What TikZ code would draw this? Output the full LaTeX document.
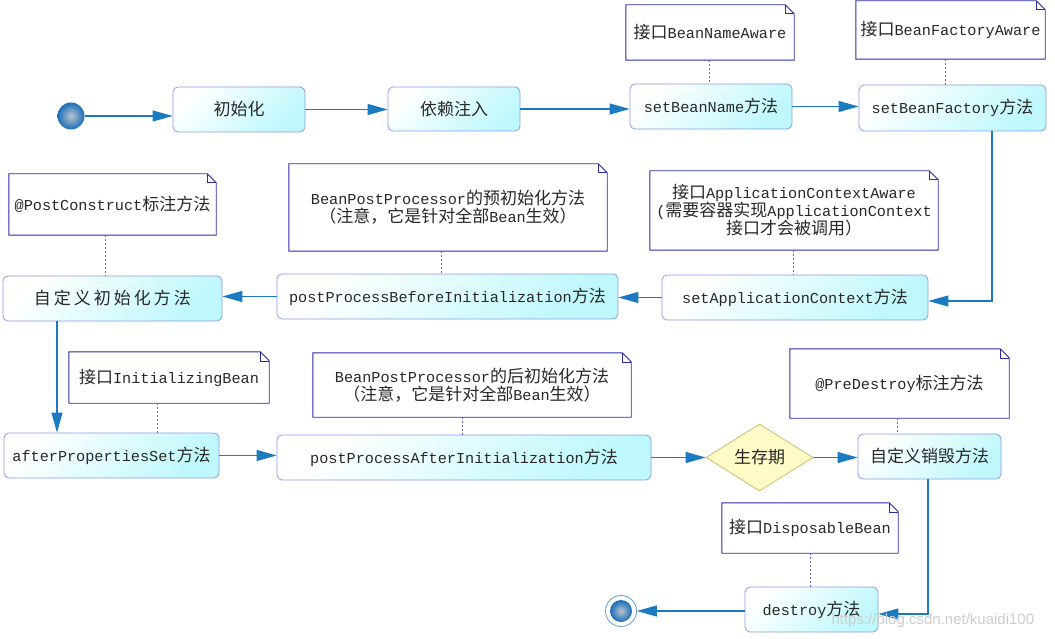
\documentclass[tikz,border=0pt]{standalone}
\usepackage{fontspec}
\setmainfont{Liberation Mono}
\newfontfamily\cjkfont{Noto Sans CJK SC}
\newfontfamily\wmfont{Liberation Sans}
\usetikzlibrary{arrows.meta,shapes.geometric,calc}
\newcommand\zh[1]{{\cjkfont\fontsize{17}{18}\selectfont #1}}
\definecolor{arrowblue}{RGB}{28,122,192}
\definecolor{boxborder}{RGB}{140,155,232}
\definecolor{boxfill}{RGB}{190,248,252}
\definecolor{noteborder}{RGB}{43,43,168}
\definecolor{dotcolor}{RGB}{100,100,215}
\definecolor{textcol}{RGB}{40,40,40}
\definecolor{dfill}{RGB}{255,252,200}
\definecolor{dborder}{RGB}{205,190,110}
\definecolor{ballin}{RGB}{185,195,205}
\definecolor{ballout}{RGB}{25,110,185}
\definecolor{ringcol}{RGB}{90,150,200}
\definecolor{wmcol}{RGB}{205,205,205}
\newcommand\notefold[1]{%
  \draw[noteline] (#1.south west) -- (#1.north west) -- ([xshift=-9pt]#1.north east) -- ([yshift=-9pt]#1.north east) -- (#1.south east) -- cycle;
  \draw[noteline, line width=0.6pt] ([xshift=-9pt]#1.north east) |- ([yshift=-9pt]#1.north east);}
\newcommand\notelink[3]{%
  \coordinate (tmp) at ($(#1.south)+(#3,0)$);
  \draw[dotl] (tmp) -- (tmp |- #2.north);}
\begin{document}
\begin{tikzpicture}[x=1pt,y=-1pt,
  every node/.style={font=\fontsize{15.2}{18}\selectfont, text=textcol},
  box/.style={rectangle, rounded corners=5pt, draw=boxborder, line width=0.8pt,
    top color=white, bottom color=boxfill, shading angle=45,
    minimum height=45pt, inner sep=0pt},
  notebox/.style={rectangle, fill=white, align=center, inner sep=0pt},
  noteline/.style={draw=noteborder, line width=0.9pt, line join=miter},
  dotl/.style={draw=dotcolor, line width=0.8pt, dash pattern=on 2pt off 2pt},
  arr/.style={draw=arrowblue, line width=1.1pt, -{Triangle[length=20pt,width=11pt]}}
]
\useasboundingbox (0,0) rectangle (1055,639);

% notes
\node[notebox, minimum width=168pt, minimum height=55pt] (nbn) at (710,32.5) {\zh{接口}BeanNameAware};
\notefold{nbn}
\node[notebox, minimum width=189pt, minimum height=58pt] (nbf) at (950.5,30) {\zh{接口}BeanFactoryAware};
\notefold{nbf}
\node[notebox, minimum width=288pt, minimum height=79pt] (nac) at (794,210.5) {\zh{接口}ApplicationContextAware\\(\zh{需要容器实现}ApplicationContext\\\zh{接口才会被调用）}};
\notefold{nac}
\node[notebox, minimum width=318pt, minimum height=87pt] (npre) at (448,207.5) {BeanPostProcessor\zh{的预初始化方法}\\\zh{（注意，它是针对全部}Bean\zh{生效）}};
\notefold{npre}
\node[notebox, minimum width=207pt, minimum height=61pt] (npc) at (112.5,204.5) {@PostConstruct\zh{标注方法}};
\notefold{npc}
\node[notebox, minimum width=200pt, minimum height=51pt] (nib) at (169,377.5) {\zh{接口}InitializingBean};
\notefold{nib}
\node[notebox, minimum width=318pt, minimum height=64pt] (npost) at (472,385) {BeanPostProcessor\zh{的后初始化方法}\\\zh{（注意，它是针对全部}Bean\zh{生效）}};
\notefold{npost}
\node[notebox, minimum width=219pt, minimum height=69pt] (npd) at (899.5,383.5) {@PreDestroy\zh{标注方法}};
\notefold{npd}
\node[notebox, minimum width=176pt, minimum height=50pt] (ndb) at (810,528) {\zh{接口}DisposableBean};
\notefold{ndb}

% start / end
\node[circle, minimum size=27pt, inner sep=0pt, inner color=ballin, outer color=ballout] (start) at (71,116) {};
\node[circle, draw=ringcol, fill=white, line width=0.7pt, minimum size=31pt, inner sep=0pt] (endring) at (621,611) {};
\node[circle, minimum size=22pt, inner sep=0pt, inner color=ballin, outer color=ballout] (endball) at (621,611) {};

% boxes
\node[box, minimum width=132pt] (init) at (239,109.5) {\zh{初始化}};
\node[box, minimum width=132pt, minimum height=44pt] (dep) at (454,109) {\zh{依赖注入}};
\node[box, minimum width=162pt] (sbn) at (711,106.5) {setBeanName\zh{方法}};
\node[box, minimum width=187pt, minimum height=46pt] (sbf) at (952.5,108) {setBeanFactory\zh{方法}};
\node[box, minimum width=266pt] (sac) at (795,297.5) {setApplicationContext\zh{方法}};
\node[box, minimum width=341pt] (ppb) at (447.5,296.5) {postProcessBeforeInitialization\zh{方法}};
\node[box, minimum width=219pt] (cinit) at (112.5,298.5) {\zh{自\hspace{3pt}定\hspace{3pt}义\hspace{3pt}初\hspace{3pt}始\hspace{3pt}化\hspace{3pt}方\hspace{3pt}法}};
\node[box, minimum width=215pt] (aps) at (111.5,455.5) {afterPropertiesSet\zh{方法}};
\node[box, minimum width=374pt] (ppa) at (464,457.5) {postProcessAfterInitialization\zh{方法}};
\node[diamond, aspect=1.6, draw=dborder, fill=dfill, line width=0.8pt, inner sep=0pt,
      minimum width=107pt, minimum height=67pt] (life) at (759.5,457.5) {\zh{生存期}};
\node[box, minimum width=143pt] (cdes) at (929.5,456.5) {\zh{自定义销毁方法}};
\node[box, minimum width=133pt] (destroy) at (811.5,609.5) {destroy\zh{方法}};

% note links
\notelink{nbn}{sbn}{-1}
\notelink{nbf}{sbf}{-5.5}
\notelink{nac}{sac}{-1}
\notelink{npre}{ppb}{-7}
\notelink{npc}{cinit}{-7.5}
\notelink{nib}{aps}{-12}
\notelink{npost}{ppa}{-10}
\notelink{npd}{cdes}{-2.5}
\notelink{ndb}{destroy}{0}

% flow
\draw[arr] (start) -- (start -| init.west);
\draw[arr] (init.east) -- (init.east -| dep.west);
\draw[arr] (dep.east) -- (dep.east -| sbn.west);
\draw[arr] (sbn.east) -- (sbn.east -| sbf.west);
\coordinate (e1) at ($(sbf.south)+(39.5,0)$);
\coordinate (e1b) at ($(sac.east)+(0,3.5)$);
\draw[arr] (e1) |- (e1b);
\draw[arr] (sac.west) -- (sac.west -| ppb.east);
\draw[arr] (ppb.west) -- (ppb.west -| cinit.east);
\coordinate (e2) at ($(cinit.south)+(-55.5,0)$);
\draw[arr] (e2) -- (e2 |- aps.north);
\draw[arr] (aps.east) -- (aps.east -| ppa.west);
\draw[arr] (ppa.east) -- (life.west);
\draw[arr] (life.east) -- (life.east -| cdes.west);
\coordinate (e3) at ($(cdes.south)+(-1.5,0)$);
\coordinate (e3b) at ($(destroy.east)+(0,4.5)$);
\draw[arr] (e3) |- (e3b);
\draw[arr] (destroy.west |- endring) -- (endring.east);

% watermark
\node[font=\wmfont\fontsize{15}{18}\selectfont, text=wmcol, anchor=west] (wm) at (828,621) {https://blog.csdn.net/kuaidi100};
\end{tikzpicture}
\end{document}
